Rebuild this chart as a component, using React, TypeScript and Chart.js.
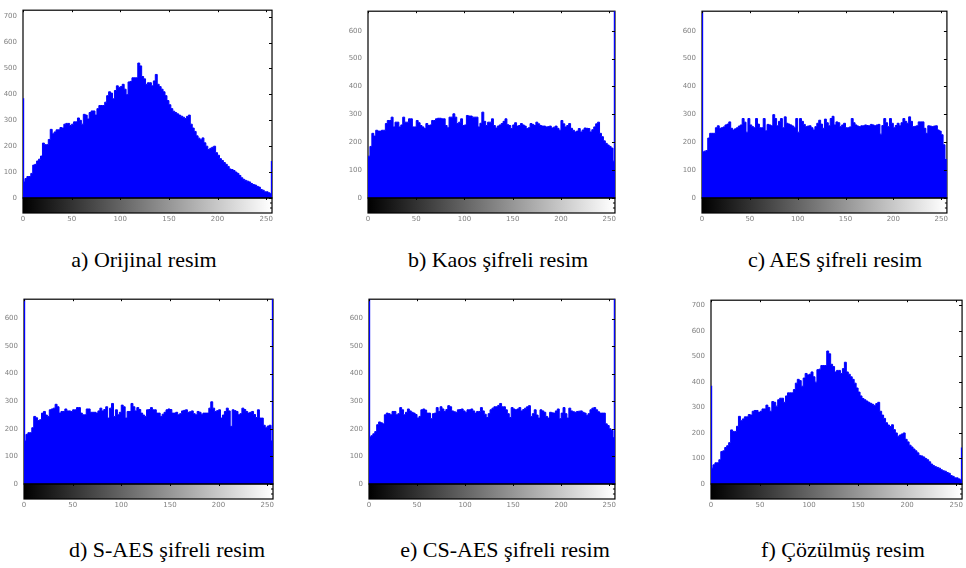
import React, { useEffect, useRef } from "react";
import { Chart, registerables } from "chart.js";

Chart.register(...registerables);

// Grey-level histograms, 128 bins of two grey levels each (0..255)
const BIN_WIDTH = 2;
const GRAY_LIMIT = 256;
const X_TICKS = [0, 50, 100, 150, 200, 250];
const Y_TICKS_600 = [0, 100, 200, 300, 400, 500, 600];
const Y_TICKS_700 = [0, 100, 200, 300, 400, 500, 600, 700];

const ORIGINAL = [
  62, 75, 83, 83, 95, 127, 130, 143, 150, 162,
  212, 206, 206, 226, 265, 248, 255, 263, 263, 272,
  270, 285, 288, 288, 280, 285, 294, 294, 309, 300,
  285, 323, 320, 305, 330, 336, 336, 320, 345, 357,
  357, 357, 370, 395, 410, 405, 383, 415, 433, 427,
  430, 439, 420, 399, 448, 450, 464, 464, 464, 521,
  510, 469, 460, 439, 445, 445, 433, 452, 477, 439,
  430, 420, 410, 395, 376, 360, 345, 335, 330, 325,
  320, 316, 312, 307, 315, 320, 285, 270, 257, 240,
  231, 225, 232, 213, 200, 187, 192, 196, 200, 175,
  165, 152, 145, 137, 130, 122, 112, 110, 106, 100,
  95, 87, 78, 72, 68, 65, 62, 56, 52, 50,
  45, 42, 33, 30, 24, 24, 20, 16,
];

const CHAOS = [
  150, 185, 232, 222, 243, 240, 240, 243, 243, 267,
  278, 278, 290, 255, 272, 272, 255, 262, 290, 272,
  272, 284, 284, 255, 255, 278, 270, 260, 255, 249,
  267, 260, 262, 278, 278, 284, 286, 286, 284, 284,
  260, 252, 290, 290, 302, 290, 267, 272, 284, 260,
  262, 296, 294, 294, 290, 290, 290, 255, 268, 308,
  275, 260, 272, 272, 284, 260, 251, 258, 262, 267,
  275, 284, 263, 260, 249, 262, 270, 258, 260, 267,
  262, 258, 249, 252, 267, 264, 260, 272, 266, 260,
  258, 258, 255, 256, 258, 251, 254, 258, 250, 243,
  278, 266, 255, 260, 267, 250, 243, 237, 240, 249,
  237, 244, 251, 250, 249, 237, 245, 255, 266, 272,
  232, 220, 205, 196, 190, 185, 179, 132,
];

const AES = [
  165, 168, 170, 215, 232, 232, 232, 252, 259, 250,
  252, 255, 262, 265, 273, 250, 244, 248, 252, 258,
  262, 285, 272, 236, 285, 262, 256, 252, 285, 265,
  252, 252, 285, 241, 264, 262, 259, 299, 285, 259,
  275, 285, 252, 291, 268, 265, 262, 258, 252, 285,
  236, 285, 275, 264, 256, 258, 259, 252, 244, 256,
  268, 279, 265, 250, 283, 270, 259, 285, 293, 262,
  273, 270, 256, 262, 268, 252, 252, 255, 285, 270,
  262, 258, 256, 259, 259, 262, 260, 259, 264, 262,
  259, 262, 264, 229, 260, 285, 270, 256, 285, 268,
  252, 260, 268, 259, 270, 285, 275, 268, 291, 275,
  256, 257, 259, 273, 273, 273, 250, 232, 259, 258,
  256, 258, 259, 244, 240, 227, 191, 138,
];

const S_AES = [
  156, 180, 186, 186, 204, 245, 240, 230, 233, 257,
  263, 250, 245, 269, 272, 275, 289, 280, 257, 263,
  263, 272, 265, 265, 263, 269, 269, 277, 277, 257,
  251, 251, 272, 272, 260, 260, 260, 257, 265, 275,
  265, 270, 280, 239, 275, 292, 245, 269, 251, 260,
  286, 280, 239, 263, 263, 292, 280, 265, 277, 270,
  257, 250, 245, 269, 270, 277, 269, 269, 257, 257,
  245, 253, 260, 269, 272, 270, 257, 257, 260, 251,
  255, 265, 267, 269, 260, 262, 265, 255, 251, 263,
  260, 253, 257, 257, 257, 275, 298, 275, 263, 266,
  269, 239, 250, 263, 275, 265, 209, 269, 266, 263,
  251, 255, 275, 270, 263, 257, 260, 263, 252, 241,
  269, 239, 239, 213, 204, 210, 213, 156,
];

const CS_AES = [
  170, 175, 182, 190, 215, 225, 222, 218, 251, 257,
  255, 251, 263, 263, 251, 255, 277, 269, 251, 260,
  272, 265, 260, 257, 252, 239, 245, 269, 272, 268,
  257, 257, 237, 255, 257, 277, 263, 280, 272, 263,
  270, 284, 280, 265, 262, 260, 269, 270, 272, 265,
  260, 269, 269, 272, 265, 257, 263, 263, 277, 265,
  253, 241, 255, 269, 275, 280, 280, 285, 292, 280,
  280, 269, 255, 241, 277, 272, 269, 272, 277, 265,
  270, 275, 280, 284, 245, 255, 269, 250, 239, 269,
  265, 260, 245, 239, 260, 258, 257, 265, 272, 237,
  257, 277, 255, 239, 275, 265, 262, 260, 263, 264,
  265, 260, 257, 249, 255, 269, 275, 277, 269, 262,
  257, 257, 257, 218, 212, 200, 194, 168,
];

// Decryption restores the original image, so its histogram is the original one
const DECRYPTED = ORIGINAL;

// Counts of grey level 0 and 255 (drawn as single stems at the axis edges)
const FIRST_LEVEL = [385, null, 1200, 1200, 1200, 385];
const LAST_LEVEL = [143, 1200, null, 1200, 1200, 143];

const CAPTIONS = [
  "a) Orijinal resim",
  "b) Kaos şifreli resim",
  "c) AES şifreli resim",
  "d) S-AES şifreli resim",
  "e) CS-AES şifreli resim",
  "f) Çözülmüş resim",
];
const SERIES = [ORIGINAL, CHAOS, AES, S_AES, CS_AES, DECRYPTED];
const Y_MAX = [725, 670, 670, 670, 670, 720];
const Y_TICKS = [Y_TICKS_700, Y_TICKS_600, Y_TICKS_600, Y_TICKS_600, Y_TICKS_600, Y_TICKS_700];

// Plot-area placement of each panel on the page
const BOXES = [
  { left: 23, top: 6, right: 284, bottom: 198, cx: 144, base: 267 },
  { left: 368, top: 7, right: 627, bottom: 198, cx: 498, base: 267 },
  { left: 702, top: 7, right: 959, bottom: 198, cx: 835, base: 267 },
  { left: 24, top: 295, right: 285, bottom: 484, cx: 167, base: 557 },
  { left: 369, top: 295, right: 627, bottom: 484, cx: 505, base: 557 },
  { left: 711, top: 296, right: 974, bottom: 484, cx: 843, base: 557 },
];

const AXIS_W = 26;
const PAD_T = 6;
const PAD_R = 6;
const BOTTOM_H = 32;
const RAMP_H = 15;
const BLUE = "#0000ff";
const TICK_FONT = { family: "DejaVu Sans", size: 7 };
const TICK_COLOR = "#808080";

const imhistFrame = {
  id: "imhistFrame",
  beforeDatasetsDraw(chart: any) {
    const { ctx, chartArea } = chart;
    const { left, top, right, bottom } = chartArea;
    ctx.save();
    ctx.strokeStyle = "#000";
    ctx.lineWidth = 1.2;
    ctx.strokeRect(left, top, right - left, bottom - top);
    ctx.restore();
  },
  afterDatasetsDraw(chart: any) {
    const { ctx, chartArea, scales } = chart;
    const { left, top, right, bottom } = chartArea;
    const xs = scales.x;
    const ys = scales.y;
    ctx.save();
    // grey-level ramp under the histogram
    const g = ctx.createLinearGradient(xs.getPixelForValue(0), 0, xs.getPixelForValue(255), 0);
    g.addColorStop(0, "#000000");
    g.addColorStop(1, "#ffffff");
    ctx.fillStyle = g;
    ctx.fillRect(left, bottom, right - left, RAMP_H);
    ctx.strokeStyle = "#000";
    ctx.lineWidth = 1.2;
    ctx.strokeRect(left, bottom, right - left, RAMP_H);
    ctx.beginPath();
    ctx.moveTo(left, bottom);
    ctx.lineTo(right, bottom);
    ctx.stroke();
    // inward tick marks
    ctx.lineWidth = 1;
    ctx.beginPath();
    for (const t of ys.ticks) {
      const py = Math.round(ys.getPixelForValue(t.value)) + 0.5;
      ctx.moveTo(right - 3, py);
      ctx.lineTo(right, py);
    }
    for (const t of xs.ticks) {
      const px = Math.round(xs.getPixelForValue(t.value)) + 0.5;
      ctx.moveTo(px, bottom);
      ctx.lineTo(px, bottom + 2);
      ctx.moveTo(px, top);
      ctx.lineTo(px, top + 2);
    }
    ctx.moveTo(right - 2, bottom + 5);
    ctx.lineTo(right, bottom + 5);
    ctx.moveTo(right - 2, bottom + 10);
    ctx.lineTo(right, bottom + 10);
    ctx.stroke();
    ctx.restore();
  },
};

function stem(x: number, count: number | null) {
  return {
    data: count == null ? [] : [{ x, y: 0 }, { x, y: count }],
    borderColor: BLUE,
    borderWidth: 1.6,
    pointRadius: 0,
    fill: false,
  };
}

function HistogramPanel({ index }: { index: number }) {
  const ref = useRef<HTMLCanvasElement>(null);
  const box = BOXES[index];
  const width = box.right - box.left + AXIS_W + PAD_R;
  const height = box.bottom - box.top + PAD_T + BOTTOM_H;

  useEffect(() => {
    const bins = SERIES[index];
    const steps = bins.map((v, i) => ({ x: i * BIN_WIDTH, y: v }));
    steps.push({ x: GRAY_LIMIT, y: bins[bins.length - 1] });
    const yTicks = Y_TICKS[index];

    const chart = new Chart(ref.current as HTMLCanvasElement, {
      type: "line",
      data: {
        datasets: [
          {
            data: steps,
            stepped: "before",
            fill: "origin",
            backgroundColor: BLUE,
            borderColor: BLUE,
            borderWidth: 1,
            pointRadius: 0,
          },
          stem(0.4, FIRST_LEVEL[index]),
          stem(255.6, LAST_LEVEL[index]),
        ] as any,
      },
      options: {
        animation: false,
        responsive: false,
        devicePixelRatio: 1,
        events: [],
        layout: { autoPadding: false, padding: { left: 0, top: PAD_T, right: PAD_R, bottom: 0 } },
        plugins: { legend: { display: false }, tooltip: { enabled: false }, title: { display: false } },
        scales: {
          x: {
            type: "linear",
            min: 0,
            max: GRAY_LIMIT,
            offset: false,
            grid: { display: false, drawTicks: false },
            border: { display: false },
            ticks: { font: TICK_FONT, color: TICK_COLOR, padding: 17, maxRotation: 0 },
            afterBuildTicks: (s: any) => {
              s.ticks = X_TICKS.map((value) => ({ value }));
            },
            afterFit: (s: any) => {
              s.height = BOTTOM_H;
            },
          },
          y: {
            type: "linear",
            min: 0,
            max: Y_MAX[index],
            grid: { display: false, drawTicks: false },
            border: { display: false },
            ticks: { font: TICK_FONT, color: TICK_COLOR, padding: 6 },
            afterBuildTicks: (s: any) => {
              s.ticks = yTicks.map((value) => ({ value }));
            },
            afterFit: (s: any) => {
              s.width = AXIS_W;
            },
          },
        },
      } as any,
      plugins: [imhistFrame],
    });
    return () => chart.destroy();
  }, [index]);

  return (
    <canvas
      ref={ref}
      width={width}
      height={height}
      style={{ position: "absolute", left: box.left - AXIS_W, top: box.top - PAD_T, width, height }}
    />
  );
}

export default function App() {
  return (
    <div
      style={{
        position: "absolute",
        left: 0,
        top: 0,
        width: 966,
        height: 568,
        overflow: "hidden",
        background: "#fff",
      }}
    >
      {BOXES.map((b, i) => (
        <React.Fragment key={i}>
          <HistogramPanel index={i} />
          <div
            style={{
              position: "absolute",
              left: b.cx - 170,
              width: 340,
              top: b.base - 18.4,
              textAlign: "center",
              fontFamily: '"Liberation Serif", "Times New Roman", serif',
              fontSize: 22,
              lineHeight: "22px",
              color: "#000",
              whiteSpace: "nowrap",
            }}
          >
            {CAPTIONS[i]}
          </div>
        </React.Fragment>
      ))}
    </div>
  );
}
